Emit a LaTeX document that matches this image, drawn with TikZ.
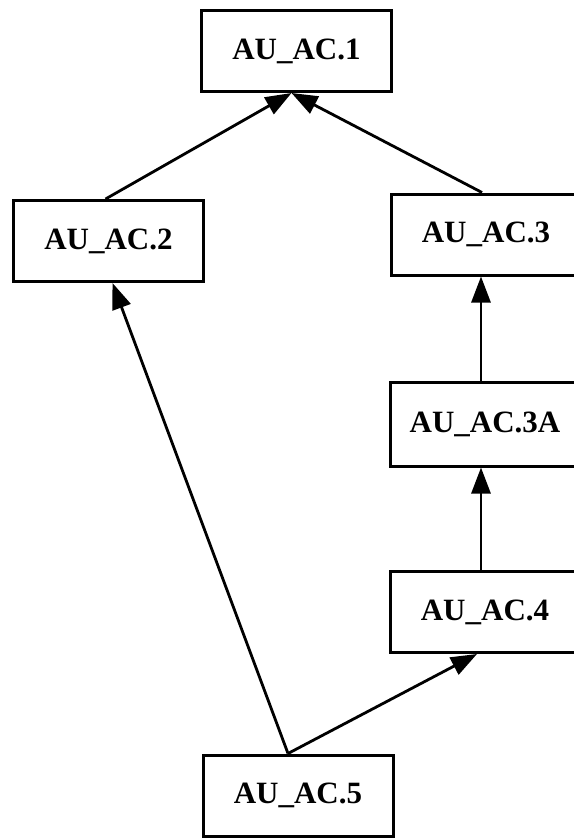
\documentclass[tikz,border=0pt]{standalone}
\usepackage{fontspec}
\setmainfont{Liberation Serif}
\usetikzlibrary{arrows.meta,calc}
\begin{document}
\begin{tikzpicture}[x=1pt,y=-1pt,
  box/.style={draw=black,line width=3pt,fill=white,inner sep=0pt,
    minimum width=190pt,minimum height=81pt,
    font=\fontsize{31}{31}\selectfont\bfseries},
  link/.style={line width=2.8pt,-{Triangle[length=26pt,width=19pt]}}]
\useasboundingbox (0,0) rectangle (573,838);
\node[box] (n1) at (296.5,51) {AU\_AC.1};
\node[box] (n2) at (108.5,241) {AU\_AC.2};
\node[box] (n3) at (486,234.5) {AU\_AC.3};
\node[box,minimum height=84pt] (n3a) at (485,424) {AU\_AC.3A};
\node[box] (n4) at (485,612) {AU\_AC.4};
\node[box] (n5) at (298,795.5) {AU\_AC.5};
\coordinate (h1) at ($(n1.south)+(-5,0)$);
\coordinate (t2) at ($(n2.north)+(-3,0)$);
\coordinate (t3) at ($(n3.north)+(-4,0)$);
\coordinate (t5) at ($(n5.north)+(-10,0)$);
\coordinate (h2) at ($(n2.south)+(4,0)$);
\coordinate (h4) at ($(n4.south)+(-8,0)$);
\draw[link] (t2) -- (h1);
\draw[link] (t3) -- (h1);
\draw[link] ($(n3a.north)+(-4,0)$) -- ($(n3.south)+(-5,0)$);
\draw[link] ($(n4.north)+(-4,0)$) -- ($(n3a.south)+(-4,0)$);
\draw[link] (t5) -- (h2);
\draw[link] (t5) -- (h4);
\end{tikzpicture}
\end{document}
